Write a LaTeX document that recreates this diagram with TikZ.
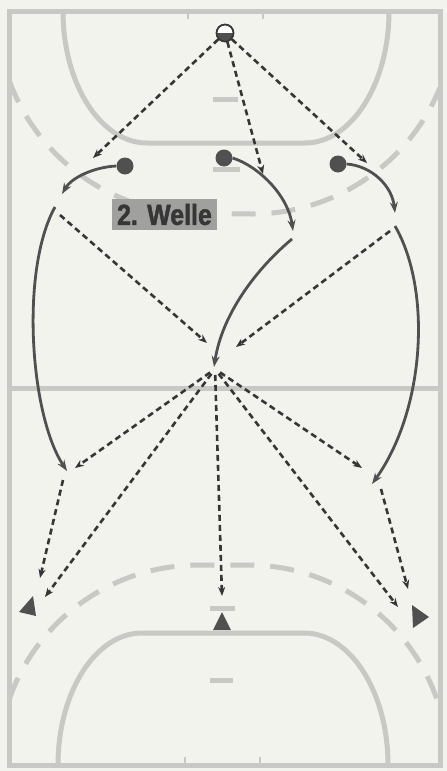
\documentclass[tikz,border=0pt]{standalone}
\usepackage{fontspec}
\setmainfont{Liberation Sans}
\newfontfamily\lblfont[FakeBold=1.6,FakeStretch=0.86]{Liberation Sans}
\usetikzlibrary{arrows.meta}
\definecolor{bg}{HTML}{F3F3EE}
\definecolor{court}{HTML}{C8C8C4}
\definecolor{ink}{HTML}{363636}
\definecolor{runc}{HTML}{505050}
\definecolor{boxc}{HTML}{A0A09E}
\begin{document}
\begin{tikzpicture}[x=1pt,y=-1pt,
  courtline/.style={draw=court,line width=5pt},
  ninem/.style={draw=court,line width=5pt,dash pattern=on 24pt off 16pt},
  courtmark/.style={draw=court,line width=5pt},
  pass/.style={draw=ink,line width=2.6pt,dash pattern=on 6pt off 4pt,-{Stealth[length=9pt,width=7pt]}},
  run/.style={draw=runc,line width=2.8pt,-{Stealth[length=11pt,width=8pt]}},
  player/.style={circle,fill=runc,minimum size=17pt,inner sep=0pt},
  keeper/.style={circle,draw=ink,line width=1.5pt,fill=white,minimum size=17pt,inner sep=0pt},
  tri/.style={fill=runc},
  labelbox/.style={fill=boxc,text=ink,inner sep=0pt,minimum width=105pt,minimum height=31pt}]
\fill[bg] (0,0) rectangle (447,771);
\useasboundingbox (0,0) rectangle (447,771);
% court
\draw[courtline] (9,11) rectangle (440,765);
\draw[courtline] (9,388) -- (440,388);
% top 6m line
\draw[courtline] (63,11) arc[start angle=180,end angle=90,x radius=84,y radius=132] -- (305,143) arc[start angle=90,end angle=0,x radius=84,y radius=132];
% bottom 6m line
\draw[courtline] (58,765) arc[start angle=180,end angle=270,x radius=84,y radius=132] -- (304,633) arc[start angle=270,end angle=360,x radius=84,y radius=132];
% 9m lines
\draw[ninem] (9,80) arc[start angle=160.1,end angle=90,radius=203] -- (252,214) arc[start angle=90,end angle=22.3,radius=203];
\draw[ninem] (9,700) arc[start angle=199,end angle=270,radius=200] -- (248,565) arc[start angle=270,end angle=343.7,radius=200];
% marks
\draw[courtmark] (213,99) -- (238,99);
\draw[courtmark] (213,169) -- (240,169);
\draw[courtmark] (210,608) -- (235,608);
\draw[courtmark] (210,680) -- (233,680);
\draw[court,line width=2pt] (188,11) -- (188,19) (263,11) -- (263,19);
\draw[court,line width=2pt] (185,757) -- (185,765) (260,757) -- (260,765);
% label
\node[labelbox] (lbl) at (164.5,214.5) {\lblfont\bfseries\fontsize{29}{29}\selectfont 2. Welle};
% keeper
\node[keeper] (gk) at (225,33) {};
\fill[runc] (225,33) ++(-8,0) arc[start angle=180,end angle=0,radius=8] -- cycle;
\draw[ink,line width=1.5pt] (225,33) circle[radius=8.5];
% players
\node[player] (p1) at (125,166) {};
\node[player] (p2) at (224,158) {};
\node[player] (p3) at (338,164) {};
% coordinates
\coordinate (a1) at (93,158);
\coordinate (a2) at (263,174);
\coordinate (a3) at (367,163);
\coordinate (r1e) at (62,194);
\coordinate (r2s) at (55,207);
\coordinate (r2e) at (67,471);
\coordinate (r3e) at (293,231);
\coordinate (r4s) at (292,239);
\coordinate (r4e) at (214,367);
\coordinate (r5e) at (395,213);
\coordinate (r6s) at (395,226);
\coordinate (r6e) at (372,484);
\coordinate (l1) at (60,215);
\coordinate (c1) at (207,343);
\coordinate (rr1) at (390,231);
\coordinate (c2) at (236,347);
\coordinate (hub) at (215,369);
\coordinate (b1) at (75,468);
\coordinate (b2) at (45,597);
\coordinate (b3) at (222,596);
\coordinate (b4) at (362,468);
\coordinate (b5) at (398,607);
\coordinate (l2) at (63,480);
\coordinate (b6) at (40,578);
\coordinate (rr2) at (381,489);
\coordinate (b7) at (408,589);
% runs
\draw[run] (p1.west) .. controls (95,167) and (72,177) .. (r1e);
\draw[run] (r2s) .. controls (20,270) and (30,415) .. (r2e);
\draw[run] (p2.east) .. controls (258,166) and (288,195) .. (r3e);
\draw[run] (r4s) .. controls (255,270) and (222,315) .. (r4e);
\draw[run] (p3.east) .. controls (372,166) and (392,186) .. (r5e);
\draw[run] (r6s) .. controls (432,290) and (425,410) .. (r6e);
% passes
\draw[pass] (gk) -- (a1);
\draw[pass] (gk) -- (a2);
\draw[pass] (gk) -- (a3);
\draw[pass] (l1) -- (c1);
\draw[pass] (rr1) -- (c2);
\draw[pass,shorten <=6pt] (hub) -- (b1);
\draw[pass,shorten <=6pt] (hub) -- (b2);
\draw[pass,shorten <=6pt] (hub) -- (b3);
\draw[pass,shorten <=6pt] (hub) -- (b4);
\draw[pass,shorten <=6pt] (hub) -- (b5);
\draw[pass] (l2) -- (b6);
\draw[pass] (rr2) -- (b7);
% defenders
\fill[tri] (19,612) -- (33,596) -- (36,616) -- cycle;
\fill[tri] (222,612) -- (231,630) -- (213,630) -- cycle;
\fill[tri] (429,617) -- (412,605) -- (413,628) -- cycle;
\end{tikzpicture}
\end{document}
